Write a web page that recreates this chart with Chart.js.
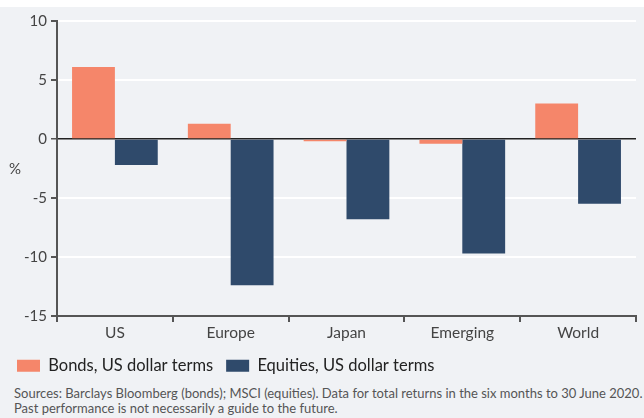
<!DOCTYPE html>
<html>
<head>
<meta charset="utf-8">
<script src="https://cdn.jsdelivr.net/npm/chart.js@4"></script>
<style>
  html, body { margin:0; padding:0; }
  body { width:644px; height:418px; background:#f0f2f5; position:relative; overflow:hidden; font-family: Lato, "Noto Sans", sans-serif; }
  #topstrip { position:absolute; left:0; top:0; width:644px; height:7px; background:#ffffff; }
  #wrap { position:absolute; left:0; top:7px; width:644px; height:377px; }
  #pct { position:absolute; left:9px; top:159px; font-size:15px; color:#444; }
  #note { position:absolute; left:14px; top:386px; font-size:13px; line-height:15px; color:#555; white-space:nowrap; }
</style>
</head>
<body>
<div id="topstrip"></div>
<div id="wrap"><canvas id="c"></canvas></div>
<div id="pct">%</div>
<div id="note">Sources: Barclays Bloomberg (bonds); MSCI (equities). Data for total returns in the six months to 30 June 2020.<br>Past performance is not necessarily a guide to the future.</div>
<script>
const categories = ["US", "Europe", "Japan", "Emerging", "World"];
const bondsLabel = "Bonds, US dollar terms";
const equitiesLabel = "Equities, US dollar terms";
const bonds = [6.1, 1.3, -0.2, -0.4, 3.0];
const equities = [-2.2, -12.4, -6.8, -9.7, -5.5];
const yTicks = [10, 5, 0, -5, -10, -15];

const FONT = "Lato, 'Noto Sans', sans-serif";

new Chart(document.getElementById('c'), {
  type: 'bar',
  data: {
    labels: categories,
    datasets: [
      { label: bondsLabel, data: bonds, backgroundColor: '#f5866a', borderWidth: 0,
        categoryPercentage: 0.74, barPercentage: 1.0 },
      { label: equitiesLabel, data: equities, backgroundColor: '#2f4a6b', borderWidth: 0,
        categoryPercentage: 0.74, barPercentage: 1.0 }
    ]
  },
  options: {
    responsive: true,
    maintainAspectRatio: false,
    animation: false,
    layout: { padding: { left: 4, right: 8, top: 14, bottom: 0 } },
    plugins: {
      tooltip: { enabled: false },
      legend: {
        position: 'bottom',
        align: 'start',
        labels: {
          boxWidth: 23, boxHeight: 12, padding: 13,
          color: '#222',
          font: { family: FONT, size: 16.5 }
        }
      }
    },
    scales: {
      x: {
        grid: { display: true, drawOnChartArea: false, drawTicks: true, tickLength: 6, tickColor: '#555', lineWidth: 2, offset: true },
        border: { display: true, color: '#555', width: 2 },
        ticks: { color: '#444', font: { family: FONT, size: 15.5 }, padding: 2 }
      },
      y: {
        min: -15, max: 10,
        afterBuildTicks: (s) => { s.ticks = yTicks.map(v => ({ value: v })); },
        afterFit: (s) => { s.width = 53; },
        grid: {
          color: (ctx) => ctx.tick && ctx.tick.value === 0 ? '#222' : '#ffffff',
          lineWidth: (ctx) => ctx.tick && ctx.tick.value === 0 ? 1.5 : 2,
          tickColor: '#555', tickLength: 6, drawTicks: true
        },
        border: { display: true, color: '#555', width: 2 },
        ticks: { color: '#444', font: { family: FONT, size: 15 }, padding: 4 }
      }
    }
  }
});
</script>
</body>
</html>
